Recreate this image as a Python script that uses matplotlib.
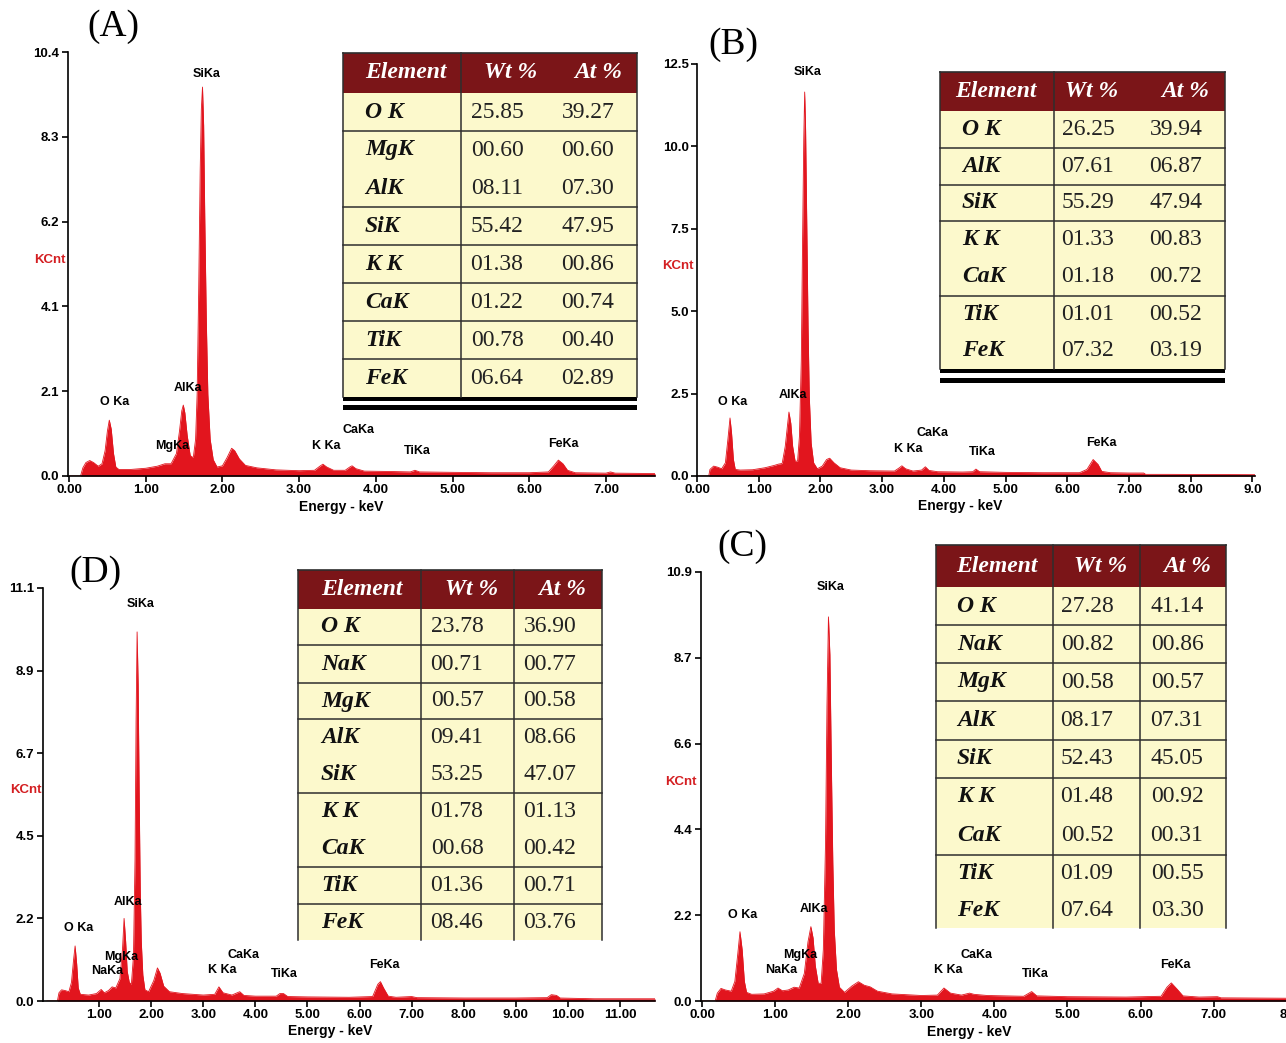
import matplotlib.pyplot as plt
from matplotlib.patches import Rectangle

plt.rcParams['font.family'] = ['Liberation Sans', 'DejaVu Sans']

W, H = 1286, 1043
SPEC_RED = '#e2151e'
HEAD_RED = '#7b1518'
CREAM = '#fcf9cc'
LINE = '#2e2e2e'
SERIF = ['Liberation Serif', 'DejaVu Serif']

# ---- spectra (keV, KCnt) ----
energy_A = [0.00, 0.15, 0.18, 0.22, 0.27, 0.32, 0.38, 0.43, 0.47, 0.50, 0.525, 0.55, 0.58, 0.61, 0.65,
            0.80, 1.00, 1.15, 1.25, 1.33, 1.40, 1.44, 1.47, 1.49, 1.51, 1.54, 1.58, 1.62, 1.65, 1.67,
            1.69, 1.71, 1.725, 1.74, 1.755, 1.77, 1.79, 1.81, 1.84, 1.88, 1.93, 2.00, 2.06, 2.12, 2.16,
            2.22, 2.30, 2.45, 2.70, 3.00, 3.20, 3.27, 3.31, 3.36, 3.45, 3.60, 3.66, 3.69, 3.74, 3.85,
            4.20, 4.45, 4.51, 4.57, 5.00, 5.50, 6.00, 6.25, 6.32, 6.38, 6.44, 6.50, 6.60, 7.00, 7.06,
            7.12, 7.64]
counts_A = [0.00, 0.00, 0.20, 0.33, 0.38, 0.33, 0.24, 0.30, 0.62, 1.10, 1.37, 1.15, 0.55, 0.22, 0.16,
            0.16, 0.19, 0.24, 0.30, 0.30, 0.55, 1.10, 1.60, 1.74, 1.55, 1.00, 0.50, 0.45, 0.90, 2.00,
            4.50, 7.50, 9.00, 9.54, 8.60, 6.30, 3.80, 2.00, 0.90, 0.40, 0.22, 0.25, 0.45, 0.68, 0.62,
            0.42, 0.26, 0.20, 0.15, 0.13, 0.14, 0.24, 0.29, 0.22, 0.14, 0.14, 0.22, 0.25, 0.18, 0.12,
            0.11, 0.10, 0.14, 0.10, 0.09, 0.08, 0.08, 0.10, 0.25, 0.39, 0.30, 0.14, 0.08, 0.07, 0.10,
            0.07, 0.06]

energy_B = [0.00, 0.19, 0.21, 0.27, 0.33, 0.40, 0.46, 0.50, 0.535, 0.56, 0.59, 0.62, 0.70, 0.90, 1.10,
            1.25, 1.32, 1.38, 1.43, 1.47, 1.49, 1.52, 1.55, 1.59, 1.63, 1.66, 1.69, 1.71, 1.73, 1.745,
            1.76, 1.78, 1.80, 1.82, 1.85, 1.89, 1.95, 2.03, 2.10, 2.15, 2.22, 2.32, 2.50, 2.80, 3.20,
            3.28, 3.32, 3.38, 3.50, 3.64, 3.70, 3.76, 3.90, 4.30, 4.47, 4.52, 4.58, 5.00, 5.60, 6.20,
            6.32, 6.42, 6.50, 6.56, 6.70, 7.00, 7.24, 7.27, 7.60, 9.04]
counts_B = [0.00, 0.00, 0.20, 0.30, 0.27, 0.22, 0.40, 1.10, 1.76, 1.30, 0.50, 0.20, 0.18, 0.19, 0.25,
            0.32, 0.36, 0.38, 0.90, 1.60, 1.94, 1.60, 0.90, 0.45, 0.45, 1.20, 3.50, 7.00, 10.20, 11.65,
            10.50, 7.50, 4.50, 2.40, 1.00, 0.40, 0.22, 0.30, 0.50, 0.54, 0.40, 0.25, 0.18, 0.16, 0.15,
            0.25, 0.31, 0.22, 0.15, 0.18, 0.28, 0.17, 0.13, 0.12, 0.13, 0.21, 0.13, 0.11, 0.10, 0.10,
            0.20, 0.50, 0.35, 0.14, 0.10, 0.09, 0.09, 0.05, 0.05, 0.04]

energy_D = [0.00, 0.20, 0.23, 0.28, 0.35, 0.42, 0.47, 0.51, 0.54, 0.57, 0.60, 0.64, 0.80, 0.95, 1.04,
            1.10, 1.18, 1.25, 1.32, 1.40, 1.45, 1.48, 1.51, 1.54, 1.58, 1.62, 1.66, 1.69, 1.71, 1.73,
            1.75, 1.77, 1.79, 1.81, 1.84, 1.88, 1.95, 2.05, 2.12, 2.17, 2.24, 2.35, 2.60, 3.00, 3.22,
            3.30, 3.38, 3.55, 3.65, 3.70, 3.78, 4.00, 4.40, 4.47, 4.54, 4.62, 5.00, 5.80, 6.25, 6.35,
            6.40, 6.46, 6.55, 6.70, 7.00, 7.10, 8.00, 9.00, 9.60, 9.68, 9.78, 9.85, 10.50, 11.67]
counts_D = [0.00, 0.00, 0.22, 0.30, 0.28, 0.25, 0.50, 1.10, 1.48, 1.00, 0.35, 0.18, 0.16, 0.20, 0.31,
            0.22, 0.28, 0.38, 0.35, 0.60, 1.40, 2.22, 1.60, 0.80, 0.50, 0.45, 1.20, 3.80, 7.50, 9.92,
            8.50, 5.50, 3.00, 1.60, 0.70, 0.30, 0.25, 0.55, 0.89, 0.75, 0.40, 0.25, 0.20, 0.16, 0.18,
            0.38, 0.22, 0.16, 0.22, 0.25, 0.15, 0.13, 0.13, 0.20, 0.20, 0.12, 0.11, 0.10, 0.12, 0.45,
            0.52, 0.35, 0.13, 0.10, 0.12, 0.09, 0.08, 0.08, 0.09, 0.17, 0.15, 0.08, 0.06, 0.06]

energy_C = [0.00, 0.18, 0.21, 0.26, 0.32, 0.40, 0.45, 0.49, 0.52, 0.55, 0.58, 0.61, 0.68, 0.85, 0.98,
            1.04, 1.10, 1.18, 1.26, 1.33, 1.40, 1.45, 1.49, 1.52, 1.55, 1.59, 1.63, 1.66, 1.69, 1.71,
            1.73, 1.75, 1.77, 1.79, 1.81, 1.84, 1.88, 1.95, 2.05, 2.14, 2.22, 2.30, 2.40, 2.60, 3.00,
            3.22, 3.31, 3.40, 3.55, 3.66, 3.72, 3.90, 4.40, 4.51, 4.58, 5.00, 5.80, 6.28, 6.36, 6.42,
            6.50, 6.58, 6.80, 7.05, 7.10, 8.00]
counts_C = [0.00, 0.00, 0.20, 0.32, 0.28, 0.25, 0.50, 1.20, 1.76, 1.30, 0.50, 0.22, 0.17, 0.18, 0.25,
            0.33, 0.26, 0.28, 0.35, 0.33, 0.70, 1.50, 1.89, 1.60, 0.90, 0.45, 0.45, 1.30, 4.00, 7.50,
            9.76, 8.80, 6.00, 3.50, 1.80, 0.80, 0.35, 0.22, 0.38, 0.49, 0.40, 0.36, 0.25, 0.18, 0.14,
            0.15, 0.33, 0.20, 0.15, 0.20, 0.17, 0.14, 0.12, 0.24, 0.13, 0.11, 0.10, 0.12, 0.35, 0.46,
            0.30, 0.13, 0.10, 0.11, 0.08, 0.07]

# ---- axis ticks ----
xticks_A = [0, 1, 2, 3, 4, 5, 6, 7]
xlabels_A = ['0.00', '1.00', '2.00', '3.00', '4.00', '5.00', '6.00', '7.00']
ylabels_A = ['0.0', '2.1', '4.1', '6.2', '8.3', '10.4']

xticks_B = [0, 1, 2, 3, 4, 5, 6, 7, 8, 9]
xlabels_B = ['0.00', '1.00', '2.00', '3.00', '4.00', '5.00', '6.00', '7.00', '8.00', '9.0']
ylabels_B = ['0.0', '2.5', '5.0', '7.5', '10.0', '12.5']

xticks_D = [1, 2, 3, 4, 5, 6, 7, 8, 9, 10, 11]
xlabels_D = ['1.00', '2.00', '3.00', '4.00', '5.00', '6.00', '7.00', '8.00', '9.00', '10.00', '11.00']
ylabels_D = ['0.0', '2.2', '4.5', '6.7', '8.9', '11.1']

xticks_C = [0, 1, 2, 3, 4, 5, 6, 7, 8]
xlabels_C = ['0.00', '1.00', '2.00', '3.00', '4.00', '5.00', '6.00', '7.00', '8']
ylabels_C = ['0.0', '2.2', '4.4', '6.6', '8.7', '10.9']

# ---- peak labels (text, keV, KCnt) ----
peaks_A = [('SiKa', 1.79, 9.86), ('O Ka', 0.59, 1.82), ('AlKa', 1.55, 2.16), ('MgKa', 1.34, 0.74),
           ('K Ka', 3.36, 0.74), ('CaKa', 3.77, 1.13), ('TiKa', 4.54, 0.61), ('FeKa', 6.44, 0.78)]
peaks_B = [('SiKa', 1.80, 12.26), ('O Ka', 0.58, 2.25), ('AlKa', 1.56, 2.46), ('K Ka', 3.42, 0.82),
           ('CaKa', 3.81, 1.30), ('TiKa', 4.62, 0.73), ('FeKa', 6.56, 1.00)]
peaks_D = [('SiKa', 1.79, 10.67), ('O Ka', 0.60, 1.96), ('AlKa', 1.55, 2.66), ('MgKa', 1.42, 1.18),
           ('NaKa', 1.15, 0.81), ('K Ka', 3.36, 0.83), ('CaKa', 3.78, 1.24), ('TiKa', 4.55, 0.73),
           ('FeKa', 6.47, 0.97)]
peaks_C = [('SiKa', 1.76, 10.52), ('O Ka', 0.56, 2.18), ('AlKa', 1.53, 2.34), ('MgKa', 1.34, 1.17),
           ('NaKa', 1.09, 0.79), ('K Ka', 3.37, 0.79), ('CaKa', 3.76, 1.17), ('TiKa', 4.56, 0.69),
           ('FeKa', 6.47, 0.91)]

# ---- composition tables ----
elements_A = ['O K', 'MgK', 'AlK', 'SiK', 'K K', 'CaK', 'TiK', 'FeK']
wt_A = ['25.85', '00.60', '08.11', '55.42', '01.38', '01.22', '00.78', '06.64']
at_A = ['39.27', '00.60', '07.30', '47.95', '00.86', '00.74', '00.40', '02.89']

elements_B = ['O K', 'AlK', 'SiK', 'K K', 'CaK', 'TiK', 'FeK']
wt_B = ['26.25', '07.61', '55.29', '01.33', '01.18', '01.01', '07.32']
at_B = ['39.94', '06.87', '47.94', '00.83', '00.72', '00.52', '03.19']

elements_D = ['O K', 'NaK', 'MgK', 'AlK', 'SiK', 'K K', 'CaK', 'TiK', 'FeK']
wt_D = ['23.78', '00.71', '00.57', '09.41', '53.25', '01.78', '00.68', '01.36', '08.46']
at_D = ['36.90', '00.77', '00.58', '08.66', '47.07', '01.13', '00.42', '00.71', '03.76']

elements_C = ['O K', 'NaK', 'MgK', 'AlK', 'SiK', 'K K', 'CaK', 'TiK', 'FeK']
wt_C = ['27.28', '00.82', '00.58', '08.17', '52.43', '01.48', '00.52', '01.09', '07.64']
at_C = ['41.14', '00.86', '00.57', '07.31', '45.05', '00.92', '00.31', '00.55', '03.30']

# layout of each panel, in pixels of the figure
panels = [
    dict(tag='(A)', energy=energy_A, counts=counts_A, box=(67.5, 655, 52, 476), xlim=(-0.02, 7.64),
         ymax=10.4, xt=xticks_A, xl=xlabels_A, yl=ylabels_A, peaks=peaks_A,
         kcnt=(50, 260), elab=(341, 507), tagpos=(113, 27),
         table=dict(el=elements_A, wt=wt_A, at=at_A, left=343, right=637, top=53, hb=93,
                    edges=[93, 131, 169, 207, 245, 283, 321, 359, 397],
                    seps=[131, 207, 245, 283, 321, 359], cols=[461],
                    hx=[406, 511, 598], ex=365, wx=497, ax=588, double=[(397, 4), (405, 5)])),
    dict(tag='(B)', energy=energy_B, counts=counts_B, box=(697, 1254.8, 64, 476), xlim=(0, 9.04),
         ymax=12.5, xt=xticks_B, xl=xlabels_B, yl=ylabels_B, peaks=peaks_B,
         kcnt=(678, 266), elab=(960, 506), tagpos=(733, 45),
         table=dict(el=elements_B, wt=wt_B, at=at_B, left=940, right=1225, top=72, hb=111,
                    edges=[111, 148, 185, 221, 258, 296, 333, 369],
                    seps=[148, 185, 221, 296], cols=[1054],
                    hx=[996, 1092, 1185], ex=962, wx=1088, ax=1176, double=[(369, 4), (378, 5)])),
    dict(tag='(D)', energy=energy_D, counts=counts_D, box=(42.8, 655, 588, 1001), xlim=(-0.08, 11.67),
         ymax=11.1, xt=xticks_D, xl=xlabels_D, yl=ylabels_D, peaks=peaks_D,
         kcnt=(26, 790), elab=(330, 1031), tagpos=(95, 573),
         table=dict(el=elements_D, wt=wt_D, at=at_D, left=298, right=602, top=570, hb=609,
                    edges=[609, 645, 683, 719, 756, 793, 830, 867, 904, 940],
                    seps=[645, 683, 719, 793, 867, 904], cols=[421, 514],
                    hx=[362, 472, 562], ex=321, wx=457, ax=550, double=[])),
    dict(tag='(C)', energy=energy_C, counts=counts_C, box=(700.5, 1286.8, 572, 1001), xlim=(-0.02, 8.0),
         ymax=10.9, xt=xticks_C, xl=xlabels_C, yl=ylabels_C, peaks=peaks_C,
         kcnt=(681, 782), elab=(969, 1032), tagpos=(742, 547),
         table=dict(el=elements_C, wt=wt_C, at=at_C, left=936, right=1226, top=545, hb=587,
                    edges=[587, 625, 663, 701, 740, 778, 816, 855, 892, 928],
                    seps=[625, 663, 701, 740, 778, 855], cols=[1053, 1140],
                    hx=[997, 1101, 1187], ex=957, wx=1087, ax=1177, double=[])),
]

fig = plt.figure(figsize=(W / 100, H / 100), dpi=100)


def px_axes(left, right, top, bottom):
    return fig.add_axes([left / W, 1 - bottom / H, (right - left) / W, (bottom - top) / H])


# spectra
for p in panels:
    ax = px_axes(*p['box'])
    ax.fill_between(p['energy'], p['counts'], 0, color=SPEC_RED, linewidth=0)
    ax.plot(p['energy'], p['counts'], color=SPEC_RED, lw=0.6)
    ax.set_xlim(*p['xlim'])
    ax.set_ylim(0, p['ymax'])
    ax.spines['top'].set_visible(False)
    ax.spines['right'].set_visible(False)
    for s in ('left', 'bottom'):
        ax.spines[s].set_linewidth(1.2)
    ax.set_xticks(p['xt'])
    ax.set_xticklabels(p['xl'], fontweight='bold')
    ax.set_yticks([p['ymax'] * i / 5 for i in range(6)])
    ax.set_yticklabels(p['yl'], fontweight='bold')
    ax.tick_params(direction='out', length=4, width=1.2, labelsize=9.5, pad=2)
    # last label of a panel that runs to the right edge of the figure
    if p['box'][1] > W:
        ax.get_xticklabels()[-1].set_horizontalalignment('right')
    for name, e, c in p['peaks']:
        ax.text(e, c, name, ha='center', va='center', fontsize=9, fontweight='bold', zorder=5)

# overlay in pixel units for tables and labels
ov = fig.add_axes([0, 0, 1, 1])
ov.set_xlim(0, W)
ov.set_ylim(H, 0)
ov.axis('off')

for p in panels:
    ov.text(p['kcnt'][0], p['kcnt'][1], 'KCnt', color='#d41f22', fontsize=9.5, fontweight='bold',
            ha='center', va='center')
    ov.text(p['elab'][0], p['elab'][1], 'Energy - keV', fontsize=10, fontweight='bold',
            ha='center', va='center')
    ov.text(p['tagpos'][0], p['tagpos'][1], p['tag'], fontsize=27, family=SERIF,
            ha='center', va='center')

    t = p['table']
    L, R, top, hb = t['left'], t['right'], t['top'], t['hb']
    bottom = t['edges'][-1]
    ov.add_patch(Rectangle((L, top), R - L, hb - top, facecolor=HEAD_RED, edgecolor='none'))
    ov.add_patch(Rectangle((L, hb), R - L, bottom - hb, facecolor=CREAM, edgecolor='none'))
    ov.plot([L, R], [top, top], color=LINE, lw=1.2)
    for y in t['seps']:
        ov.plot([L, R], [y, y], color=LINE, lw=1.1)
    for x in [L, R] + t['cols']:
        ov.plot([x, x], [top, bottom], color=LINE, lw=1.1)
    for y, h in t['double']:
        ov.add_patch(Rectangle((L, y), R - L, h, facecolor='black', edgecolor='none'))

    hy = (top + hb) / 2
    for x, s in zip(t['hx'], ['Element', 'Wt %', 'At %']):
        ov.text(x, hy, s, color='white', fontsize=17, fontweight='bold', fontstyle='italic',
                family=SERIF, ha='center', va='center')
    for i in range(len(t['el'])):
        y = (t['edges'][i] + t['edges'][i + 1]) / 2
        ov.text(t['ex'], y, t['el'][i], fontsize=17, fontweight='bold', fontstyle='italic',
                family=SERIF, ha='left', va='center', color='#111111')
        ov.text(t['wx'], y, t['wt'][i], fontsize=17, family=SERIF, ha='center', va='center',
                color='#222222')
        ov.text(t['ax'], y, t['at'][i], fontsize=17, family=SERIF, ha='center', va='center',
                color='#222222')

fig.savefig('out.png', dpi=100)
